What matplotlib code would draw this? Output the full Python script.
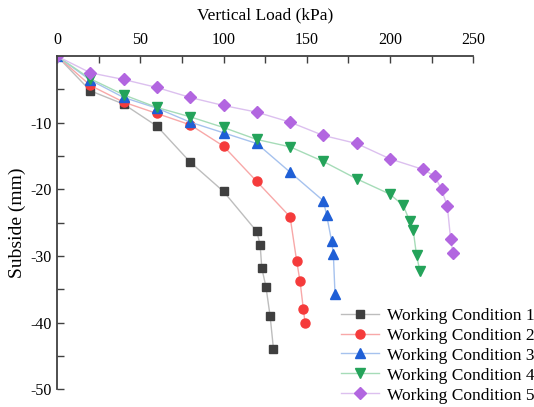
import numpy as np
import matplotlib
matplotlib.use('Agg')
import matplotlib.pyplot as plt

plt.rcParams['font.family'] = ['Liberation Serif', 'DejaVu Serif']
plt.rcParams['axes.unicode_minus'] = False

# load (kPa) and settlement (mm) for each working condition
load_1 = [0, 20, 40, 60, 80, 100, 120, 122, 123, 125.5, 128, 130]
sub_1 = [0, -5.2, -7.2, -10.5, -15.9, -20.3, -26.3, -28.3, -31.8, -34.6, -39.0, -43.9]

load_2 = [0, 20, 40, 60, 80, 100, 120, 140, 144, 146, 148, 149]
sub_2 = [0, -4.4, -6.9, -8.6, -10.3, -13.5, -18.8, -24.1, -30.8, -33.8, -38.0, -40.0]

load_3 = [0, 20, 40, 60, 80, 100, 120, 140, 160, 162, 165, 166, 167]
sub_3 = [0, -3.6, -6.2, -7.8, -9.9, -11.5, -13.1, -17.4, -21.7, -23.9, -27.8, -29.7, -35.7]

load_4 = [0, 20, 40, 60, 80, 100, 120, 140, 160, 180, 200, 208, 212, 214, 216, 218]
sub_4 = [0, -3.4, -5.8, -7.7, -9.1, -10.7, -12.5, -13.6, -15.8, -18.4, -20.7, -22.4, -24.8, -26.1, -29.9, -32.2]

load_5 = [0, 20, 40, 60, 80, 100, 120, 140, 160, 180, 200, 220, 227, 231, 234.5, 236.5, 238]
sub_5 = [0, -2.5, -3.5, -4.7, -6.2, -7.4, -8.4, -9.9, -11.9, -13.1, -15.4, -17.0, -18.0, -20.0, -22.5, -27.5, -29.6]

labels = ['Working Condition 1', 'Working Condition 2', 'Working Condition 3',
          'Working Condition 4', 'Working Condition 5']

fig = plt.figure(figsize=(5.34, 4.07), dpi=100)
ax = fig.add_axes([0.107, 0.043, 0.779, 0.819])

series = [(load_1, sub_1, 's', '#3f3f3f', '#bdbdbd', 6),
          (load_2, sub_2, 'o', '#f53b3b', '#f8a8a8', 6.5),
          (load_3, sub_3, '^', '#1f5fd6', '#a6c2ee', 7),
          (load_4, sub_4, 'v', '#24a35a', '#a6dcb8', 7),
          (load_5, sub_5, 'D', '#b266e0', '#dcc0ef', 6)]

for (x, y, m, c, lc, ms), lab in zip(series, labels):
    ax.plot(x, y, color=lc, lw=1.0, marker=m, ms=ms, mfc=c, mec=c, label=lab)

ax.set_xlim(0, 250)
ax.set_ylim(-50, 0)
ax.xaxis.tick_top()
ax.xaxis.set_label_position('top')
ax.set_xticks([0, 50, 100, 150, 200, 250])
ax.set_xticks([25, 75, 125, 175, 225], minor=True)
ax.set_yticks([-50, -40, -30, -20, -10])
ax.set_yticks([-45, -35, -25, -15, -5], minor=True)
ax.tick_params(which='both', direction='in', length=5, width=1, labelsize=11.5,
               pad=4, color='#404040')
ax.tick_params(axis='x', pad=6)
ax.spines['right'].set_visible(False)
ax.spines['bottom'].set_visible(False)
ax.spines['top'].set_linewidth(1.3)
ax.spines['left'].set_linewidth(1.3)
ax.spines['top'].set_color('#404040')
ax.spines['left'].set_color('#404040')

ax.set_xlabel('Vertical Load (kPa)', fontsize=12.5, labelpad=9)
ax.set_ylabel('Subside (mm)', fontsize=14, labelpad=3)

ax.legend(loc='lower right', bbox_to_anchor=(1.02, -0.017), bbox_transform=fig.transFigure,
          frameon=False, fontsize=12.5, handlelength=2.2, labelspacing=0.22,
          borderaxespad=0.2, handletextpad=0.45)

fig.savefig('out.png', dpi=100)
